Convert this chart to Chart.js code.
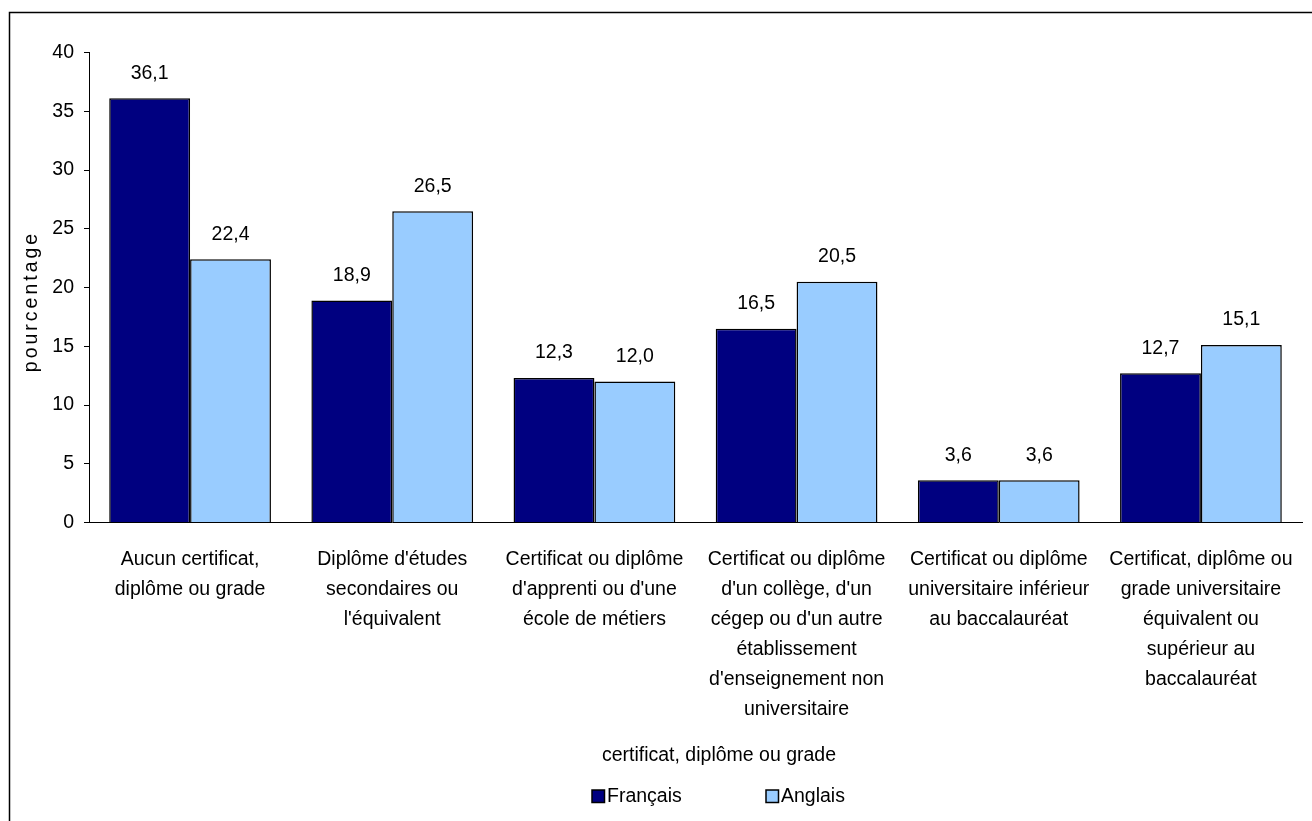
<!DOCTYPE html>
<html lang="fr">
<head>
<meta charset="utf-8">
<title>Certificat, diplôme ou grade</title>
<script src="https://cdn.jsdelivr.net/npm/chart.js@4/dist/chart.umd.min.js"></script>
<style>
  html, body { margin: 0; padding: 0; background: #fff; }
  #wrap { position: relative; width: 1312px; height: 821px; }
</style>
</head>
<body>
<div id="wrap"><canvas id="chart"></canvas></div>
<script>
// Niveau de scolarité selon la langue
const categories = [
  ['Aucun certificat,', 'diplôme ou grade'],
  ["Diplôme d'études", 'secondaires ou', "l'équivalent"],
  ['Certificat ou diplôme', "d'apprenti ou d'une", 'école de métiers'],
  ['Certificat ou diplôme', "d'un collège, d'un", "cégep ou d'un autre", 'établissement', "d'enseignement non", 'universitaire'],
  ['Certificat ou diplôme', 'universitaire inférieur', 'au baccalauréat'],
  ['Certificat, diplôme ou', 'grade universitaire', 'équivalent ou', 'supérieur au', 'baccalauréat']
];
const francais = [36.1, 18.9, 12.3, 16.5, 3.6, 12.7];
const anglais = [22.4, 26.5, 12.0, 20.5, 3.6, 15.1];
const yTicks = [0, 5, 10, 15, 20, 25, 30, 35, 40];

const FONT = "'Liberation Sans', Arial, sans-serif";
const SIZE = 19.5;
Chart.defaults.font.family = FONT;
Chart.defaults.color = '#000';

const fmt = v => v.toFixed(1).replace('.', ',');

// Frame around the whole figure
const framePlugin = {
  id: 'frame',
  beforeDraw(chart) {
    const ctx = chart.ctx;
    ctx.save();
    ctx.fillStyle = '#fff';
    ctx.fillRect(0, 0, chart.width, chart.height);
    ctx.strokeStyle = '#000';
    ctx.lineWidth = 1.5;
    ctx.strokeRect(9.5, 12.5, chart.width + 20, chart.height + 20);
    ctx.restore();
  }
};

// Value labels above bars
const valueLabels = {
  id: 'valueLabels',
  afterDatasetsDraw(chart) {
    const ctx = chart.ctx;
    ctx.save();
    ctx.font = SIZE + 'px ' + FONT;
    ctx.fillStyle = '#000';
    ctx.textAlign = 'center';
    ctx.textBaseline = 'middle';
    chart.data.datasets.forEach((ds, i) => {
      chart.getDatasetMeta(i).data.forEach((bar, j) => {
        ctx.fillText(fmt(ds.data[j]), bar.x, bar.y - 25);
      });
    });
    ctx.restore();
  }
};

// Axis titles and legend
const extras = {
  id: 'extras',
  afterDraw(chart) {
    const ctx = chart.ctx;
    ctx.save();
    ctx.fillStyle = '#000';
    ctx.font = SIZE + 'px ' + FONT;

    // y title
    ctx.save();
    ctx.translate(32, 303);
    ctx.rotate(-Math.PI / 2);
    ctx.textAlign = 'center';
    ctx.textBaseline = 'middle';
    ctx.letterSpacing = '3px';
    ctx.fillText('pourcentage', 1.5, 0);
    ctx.restore();

    // x title
    ctx.textAlign = 'center';
    ctx.textBaseline = 'middle';
    ctx.fillText('certificat, diplôme ou grade', 719, 756);

    // legend
    const spots = [592, 766];
    ctx.textAlign = 'left';
    chart.data.datasets.forEach((ds, i) => {
      const x = spots[i];
      ctx.fillStyle = ds.backgroundColor;
      ctx.fillRect(x, 790, 12.5, 12.5);
      ctx.strokeStyle = '#000';
      ctx.lineWidth = 1.5;
      ctx.strokeRect(x, 790, 12.5, 12.5);
      ctx.fillStyle = '#000';
      ctx.fillText(ds.label, x + 15, 797);
    });
    ctx.restore();
  }
};

new Chart(document.getElementById('chart'), {
  type: 'bar',
  data: {
    labels: categories,
    datasets: [
      {
        label: 'Français',
        data: francais,
        backgroundColor: '#000080',
        borderColor: '#000',
        borderWidth: 1.5,
        categoryPercentage: 0.8,
        barPercentage: 1.0
      },
      {
        label: 'Anglais',
        data: anglais,
        backgroundColor: '#99ccff',
        borderColor: '#000',
        borderWidth: 1.5,
        categoryPercentage: 0.8,
        barPercentage: 1.0
      }
    ]
  },
  options: {
    responsive: true,
    maintainAspectRatio: false,
    animation: false,
    layout: { padding: { top: 52.5, right: 10, left: 0, bottom: 0 } },
    plugins: {
      legend: { display: false },
      tooltip: { enabled: false }
    },
    scales: {
      x: {
        grid: { display: false, drawTicks: false },
        border: { color: '#000', width: 1 },
        ticks: {
          autoSkip: false,
          maxRotation: 0,
          padding: 22,
          font: { size: SIZE, lineHeight: '30px' },
          color: '#000'
        },
        afterFit(scale) {
          scale.height = 298.5;
          scale.paddingLeft = 0;
          scale.paddingRight = 0;
        }
      },
      y: {
        min: 0,
        max: 40,
        afterBuildTicks(scale) { scale.ticks = yTicks.map(v => ({ value: v })); },
        grid: { drawOnChartArea: false, drawTicks: true, tickLength: 5, color: '#000' },
        border: { color: '#000', width: 1 },
        ticks: {
          padding: 10,
          font: { size: SIZE },
          color: '#000'
        },
        afterFit(scale) { scale.width = 89; }
      }
    }
  },
  plugins: [framePlugin, valueLabels, extras]
});
</script>
</body>
</html>
